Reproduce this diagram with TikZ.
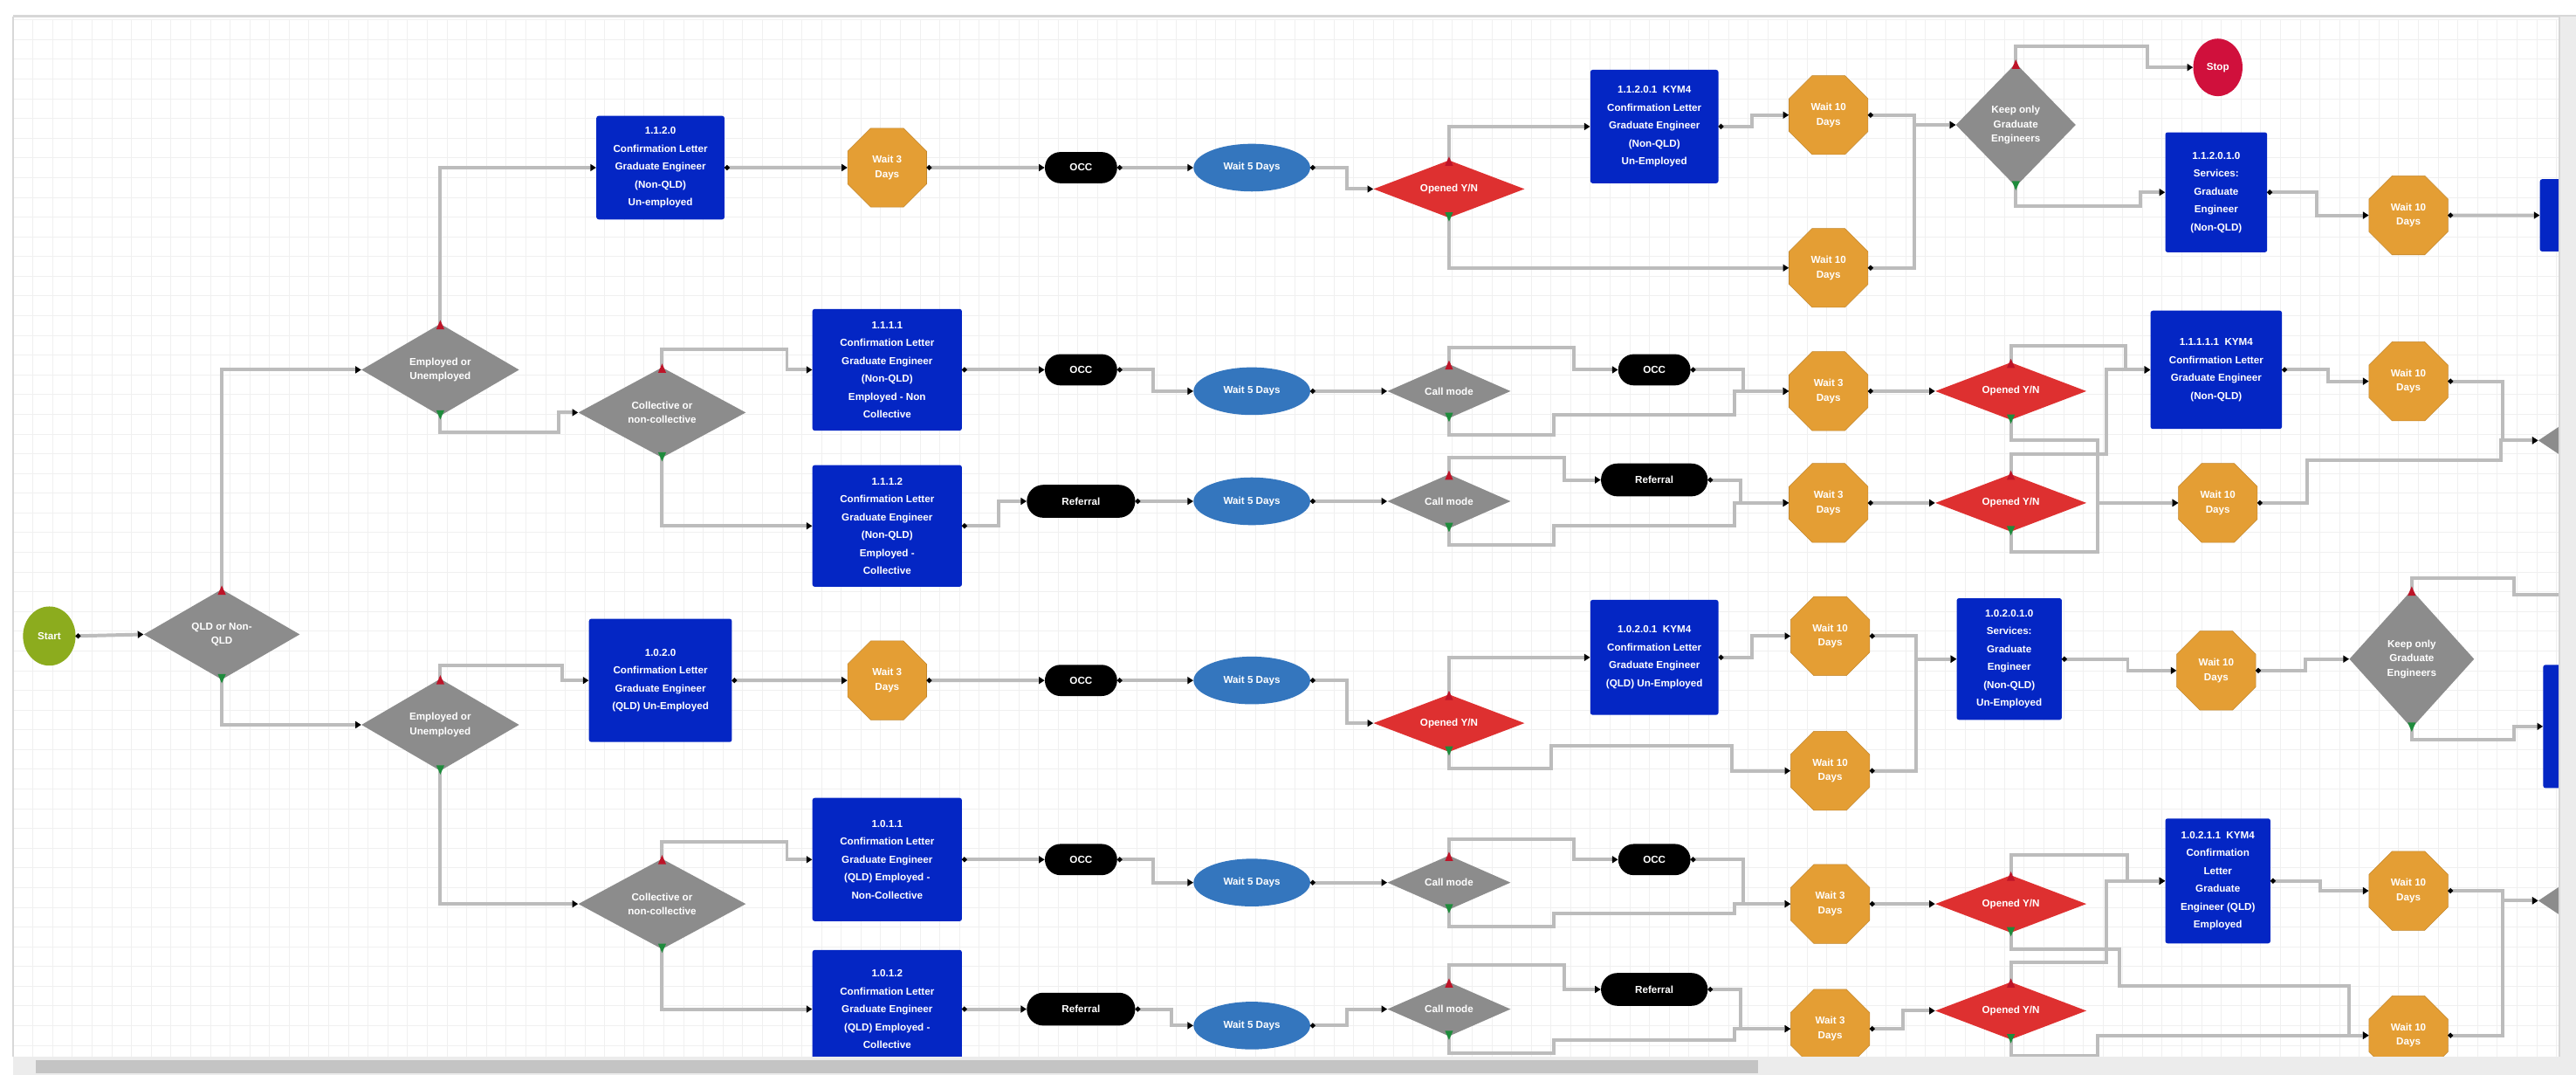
\documentclass[tikz,border=0pt]{standalone}
\usepackage{fontspec}
\setmainfont{Liberation Sans}
\usetikzlibrary{arrows.meta, shapes.geometric, shapes.misc}

\definecolor{letterblue}{RGB}{4,38,196}
\definecolor{waitorange}{RGB}{228,158,52}
\definecolor{waitblue}{RGB}{52,118,190}
\definecolor{openred}{RGB}{222,48,48}
\definecolor{decgray}{RGB}{140,140,140}
\definecolor{startgreen}{RGB}{140,172,30}
\definecolor{stopred}{RGB}{208,16,60}
\definecolor{linkgray}{RGB}{188,188,188}
\definecolor{gridgray}{RGB}{240,240,240}
\definecolor{framegray}{RGB}{215,215,215}
\definecolor{scrolltrack}{RGB}{236,236,236}
\definecolor{scrollthumb}{RGB}{196,196,196}
\definecolor{portred}{RGB}{190,20,40}
\definecolor{portgreen}{RGB}{30,140,60}

\begin{document}
\begin{tikzpicture}[x=0.05cm, y=-0.05cm,
  letter/.style={rectangle, rounded corners=2pt, fill=letterblue, text=white, align=center, inner sep=1pt, font=\bfseries\fontsize{8.8}{15.5}\selectfont},
  wait/.style={regular polygon, regular polygon sides=8, minimum size=2.6cm, inner sep=0pt, fill=waitorange, draw=waitorange!85!black, text=white, align=center, font=\bfseries\fontsize{8.8}{12.5}\selectfont},
  waitfive/.style={ellipse, minimum width=3.55cm, minimum height=1.45cm, inner sep=0pt, fill=waitblue, text=white, font=\bfseries\fontsize{8.8}{12}\selectfont},
  pill/.style={rounded rectangle, fill=black, text=white, minimum width=2.2cm, minimum height=0.95cm, inner sep=0pt, font=\bfseries\fontsize{8.8}{12}\selectfont},
  decision/.style={diamond, fill=decgray, text=white, align=center, inner sep=0pt, aspect=1.8, font=\bfseries\fontsize{8.8}{12.5}\selectfont},
  callmode/.style={decision, minimum width=3.75cm, minimum height=1.65cm, aspect=2.3},
  opened/.style={diamond, fill=openred, text=white, inner sep=0pt, aspect=2.6, minimum width=4.6cm, minimum height=1.75cm, font=\bfseries\fontsize{8.8}{12}\selectfont},
  terminal/.style={ellipse, text=white, inner sep=0pt, font=\bfseries\fontsize{8.8}{12}\selectfont},
  arrow/.style={draw=linkgray, line width=3pt, -{Triangle[color=black,length=5pt,width=6pt]}},
  flow/.style={arrow, arrows={Circle[color=black,length=4pt]-Triangle[color=black,length=5pt,width=6pt]}}
]
\useasboundingbox (0,0) rectangle (1568,654);
\fill[white] (0,0) rectangle (1568,654);
\foreach \gx in {8,20,...,1556} \draw[gridgray, line width=0.5pt] (\gx,12) -- (\gx,643);
\foreach \gy in {12,24,...,642} \draw[gridgray, line width=0.5pt] (8,\gy) -- (1558,\gy);

\begin{scope}
\clip (8,12) rectangle (1558,643);

\node[terminal, fill=startgreen, minimum width=1.6cm, minimum height=1.8cm] (start) at (30,387) {Start};
\node[decision, minimum width=4.75cm, minimum height=2.75cm, aspect=1.7] (dqld) at (135,386) {QLD or Non-\\QLD};
\node[decision, minimum width=4.8cm, minimum height=2.8cm, aspect=1.7] (dempA) at (268,225) {Employed or\\Unemployed};
\node[decision, minimum width=4.8cm, minimum height=2.8cm, aspect=1.7] (dempB) at (268,441) {Employed or\\Unemployed};
\node[decision, minimum width=5.1cm, minimum height=2.75cm] (collA) at (403,251) {Collective or\\non-collective};
\node[decision, minimum width=5.1cm, minimum height=2.75cm] (collB) at (403,550) {Collective or\\non-collective};

\node[letter, minimum width=3.9cm, minimum height=3.15cm] (b1120) at (402,102) {1.1.2.0\\Confirmation Letter\\Graduate Engineer\\(Non-QLD)\\Un-employed};
\node[wait] (wA1) at (540,102) {Wait 3\\Days};
\node[pill] (occA1) at (658,102) {OCC};
\node[waitfive] (w5A) at (762,102) {Wait 5 Days};
\node[opened] (opA) at (882,115) {Opened Y/N};
\node[letter, minimum width=3.9cm, minimum height=3.45cm] (b11201) at (1007,77) {1.1.2.0.1\ \ KYM4\\Confirmation Letter\\Graduate Engineer\\(Non-QLD)\\Un-Employed};
\node[wait] (w10A1) at (1113,70) {Wait 10\\Days};
\node[wait] (w10A2) at (1113,163) {Wait 10\\Days};
\node[decision, minimum width=3.65cm, minimum height=3.75cm, aspect=1] (keepA) at (1227,76) {Keep only\\Graduate\\Engineers};
\node[terminal, fill=stopred, minimum width=1.5cm, minimum height=1.75cm] (stop) at (1350,41) {Stop};
\node[letter, minimum width=3.1cm, minimum height=3.65cm] (b112010) at (1349,117) {1.1.2.0.1.0\\Services:\\Graduate\\Engineer\\(Non-QLD)};
\node[wait] (wA3) at (1466,131) {Wait 10\\Days};
\node[letter, minimum width=2.4cm, minimum height=2.2cm] (pbA) at (1570,131) {};

\node[letter, minimum width=4.55cm, minimum height=3.7cm] (b1111) at (540,225) {1.1.1.1\\Confirmation Letter\\Graduate Engineer\\(Non-QLD)\\Employed - Non\\Collective};
\node[letter, minimum width=4.55cm, minimum height=3.7cm] (b1112) at (540,320) {1.1.1.2\\Confirmation Letter\\Graduate Engineer\\(Non-QLD)\\Employed -\\Collective};
\node[pill] (occB1) at (658,225) {OCC};
\node[waitfive] (w5B) at (762,238) {Wait 5 Days};
\node[callmode] (callB) at (882,238) {Call mode};
\node[pill] (occB2) at (1007,225) {OCC};
\node[wait] (w3B) at (1113,238) {Wait 3\\Days};
\node[opened] (opB) at (1224,238) {Opened Y/N};
\node[letter, minimum width=4cm, minimum height=3.6cm] (b11111) at (1349,225) {1.1.1.1.1\ \ KYM4\\Confirmation Letter\\Graduate Engineer\\(Non-QLD)};
\node[wait] (w10B) at (1466,232) {Wait 10\\Days};
\node[decision, minimum width=3cm, minimum height=2cm, aspect=1.5] (gateB) at (1575,268) {};

\node[pill, minimum width=3.3cm, minimum height=1cm] (refC1) at (658,305) {Referral};
\node[waitfive] (w5C) at (762,305) {Wait 5 Days};
\node[callmode] (callC) at (882,305) {Call mode};
\node[pill, minimum width=3.25cm, minimum height=1cm] (refC2) at (1007,292) {Referral};
\node[wait] (w3C) at (1113,306) {Wait 3\\Days};
\node[opened] (opC) at (1224,306) {Opened Y/N};
\node[wait] (w10C) at (1350,306) {Wait 10\\Days};

\node[letter, minimum width=4.35cm, minimum height=3.75cm] (b1020) at (402,414) {1.0.2.0\\Confirmation Letter\\Graduate Engineer\\(QLD) Un-Employed};
\node[wait] (wD1) at (540,414) {Wait 3\\Days};
\node[pill] (occD1) at (658,414) {OCC};
\node[waitfive] (w5D) at (762,414) {Wait 5 Days};
\node[opened] (opD) at (882,440) {Opened Y/N};
\node[letter, minimum width=3.9cm, minimum height=3.5cm] (b10201) at (1007,400) {1.0.2.0.1\ \ KYM4\\Confirmation Letter\\Graduate Engineer\\(QLD) Un-Employed};
\node[wait] (w10D1) at (1114,387) {Wait 10\\Days};
\node[wait] (w10D2) at (1114,469) {Wait 10\\Days};
\node[letter, minimum width=3.2cm, minimum height=3.7cm] (b102010) at (1223,401) {1.0.2.0.1.0\\Services:\\Graduate\\Engineer\\(Non-QLD)\\Un-Employed};
\node[wait] (w10D3) at (1349,408) {Wait 10\\Days};
\node[decision, minimum width=3.8cm, minimum height=4.2cm, aspect=1] (keepD) at (1468,401) {Keep only\\Graduate\\Engineers};
\node[letter, minimum width=2.2cm, minimum height=3.75cm] (pbD) at (1570,442) {};
\coordinate (outD) at (1575,362);

\node[letter, minimum width=4.55cm, minimum height=3.75cm] (b1011) at (540,523) {1.0.1.1\\Confirmation Letter\\Graduate Engineer\\(QLD) Employed -\\Non-Collective};
\node[letter, minimum width=4.55cm, minimum height=3.6cm] (b1012) at (540,614) {1.0.1.2\\Confirmation Letter\\Graduate Engineer\\(QLD) Employed -\\Collective};
\node[pill] (occE1) at (658,523) {OCC};
\node[waitfive] (w5E) at (762,537) {Wait 5 Days};
\node[callmode] (callE) at (882,537) {Call mode};
\node[pill] (occE2) at (1007,523) {OCC};
\node[wait] (w3E) at (1114,550) {Wait 3\\Days};
\node[opened] (opE) at (1224,550) {Opened Y/N};
\node[letter, minimum width=3.2cm, minimum height=3.8cm] (b10211) at (1350,536) {1.0.2.1.1\ \ KYM4\\Confirmation\\Letter\\Graduate\\Engineer (QLD)\\Employed};
\node[wait] (w10E) at (1466,542) {Wait 10\\Days};
\node[decision, minimum width=3cm, minimum height=2cm, aspect=1.5] (gateE) at (1575,548) {};

\node[pill, minimum width=3.3cm, minimum height=1cm] (refF1) at (658,614) {Referral};
\node[waitfive] (w5F) at (762,624) {Wait 5 Days};
\node[callmode] (callF) at (882,614) {Call mode};
\node[pill, minimum width=3.25cm, minimum height=1cm] (refF2) at (1007,602) {Referral};
\node[wait] (w3F) at (1114,626) {Wait 3\\Days};
\node[opened] (opF) at (1224,615) {Opened Y/N};
\node[wait] (w10F) at (1466,630) {Wait 10\\Days};

\draw[flow] (start.east) -- (dqld.west);
\draw[arrow] (dqld.north) |- (dempA.west);
\draw[arrow] (dqld.south) |- (dempB.west);
\draw[arrow] (dempA.north) |- (b1120.west);
\draw[flow] (b1120.east) -- (wA1.west);
\draw[flow] (wA1.east) -- (occA1.west);
\draw[flow] (occA1.east) -- (w5A.west);
\draw[flow] (w5A.east) -- ++(22,0) |- (opA.west);
\draw[arrow] (opA.north) |- (b11201.west);
\draw[arrow] (opA.south) |- (w10A2.west);
\draw[flow] (b11201.east) -- ++(20,0) |- (w10A1.west);
\draw[flow] (w10A1.east) -- ++(28,0) |- (keepA.west);
\draw[flow] (w10A2.east) -- ++(28,0) |- (keepA.west);
\draw[arrow] (keepA.north) -- ++(0,-10) -- ++(80,0) |- (stop.west);
\draw[arrow] (keepA.south) -- ++(0,12) -- ++(76,0) |- (b112010.west);
\draw[flow] (b112010.east) -- ++(30,0) |- (wA3.west);
\draw[flow] (wA3.east) -- (pbA.west);

\draw[arrow] (dempA.south) -- ++(0,10) -- ++(72,0) |- (collA.west);
\draw[arrow] (collA.north) -- ++(0,-11) -- ++(76,0) |- (b1111.west);
\draw[arrow] (collA.south) |- (b1112.west);
\draw[flow] (b1111.east) -- (occB1.west);
\draw[flow] (occB1.east) -- ++(22,0) |- (w5B.west);
\draw[flow] (w5B.east) -- (callB.west);
\draw[arrow] (callB.north) -- ++(0,-10) -- ++(76,0) |- (occB2.west);
\draw[flow] (occB2.east) -- ++(32,0) |- (w3B.west);
\draw[arrow] (callB.south) -- ++(0,10) -- ++(64,0) |- ++(110,-12) |- (w3B.west);
\draw[flow] (w3B.east) -- (opB.west);
\draw[arrow] (opB.north) -- ++(0,-10) -- ++(70,0) |- (b11111.west);
\draw[arrow] (opB.south) -- ++(0,12) -- ++(53,0) |- (w10C.west);
\draw[flow] (b11111.east) -- ++(28,0) |- (w10B.west);
\draw[flow] (w10B.east) -- ++(33,0) |- (gateB.west);

\draw[flow] (b1112.east) -- ++(22,0) |- (refC1.west);
\draw[flow] (refC1.east) -- (w5C.west);
\draw[flow] (w5C.east) -- (callC.west);
\draw[arrow] (callC.north) -- ++(0,-10) -- ++(70,0) |- (refC2.west);
\draw[flow] (refC2.east) -- ++(20,0) |- (w3C.west);
\draw[arrow] (callC.south) -- ++(0,10) -- ++(64,0) |- ++(110,-12) |- (w3C.west);
\draw[flow] (w3C.east) -- (opC.west);
\draw[arrow] (opC.north) -- ++(0,-12) -- ++(58,0) |- (b11111.west);
\draw[arrow] (opC.south) -- ++(0,12) -- ++(53,0) |- (w10C.west);
\draw[flow] (w10C.east) -- ++(30,0) |- ++(118,-26) |- (gateB.west);

\draw[arrow] (dempB.north) -- ++(0,-8) -- ++(74,0) |- (b1020.west);
\draw[flow] (b1020.east) -- (wD1.west);
\draw[flow] (wD1.east) -- (occD1.west);
\draw[flow] (occD1.east) -- (w5D.west);
\draw[flow] (w5D.east) -- ++(22,0) |- (opD.west);
\draw[arrow] (opD.north) |- (b10201.west);
\draw[arrow] (opD.south) -- ++(0,10) -- ++(62,0) |- ++(110,-14) |- (w10D2.west);
\draw[flow] (b10201.east) -- ++(20,0) |- (w10D1.west);
\draw[flow] (w10D1.east) -- ++(28,0) |- (b102010.west);
\draw[flow] (w10D2.east) -- ++(28,0) |- (b102010.west);
\draw[flow] (b102010.east) -- ++(40,0) |- (w10D3.west);
\draw[flow] (w10D3.east) -- ++(30,0) |- (keepD.west);
\draw[arrow] (keepD.north) -- ++(0,-7) -- ++(62,0) |- (outD);
\draw[arrow] (keepD.south) -- ++(0,7) -- ++(62,0) |- (pbD.west);

\draw[arrow] (dempB.south) |- (collB.west);
\draw[arrow] (collB.north) -- ++(0,-10) -- ++(76,0) |- (b1011.west);
\draw[arrow] (collB.south) |- (b1012.west);
\draw[flow] (b1011.east) -- (occE1.west);
\draw[flow] (occE1.east) -- ++(22,0) |- (w5E.west);
\draw[flow] (w5E.east) -- (callE.west);
\draw[arrow] (callE.north) -- ++(0,-10) -- ++(76,0) |- (occE2.west);
\draw[flow] (occE2.east) -- ++(32,0) |- (w3E.west);
\draw[arrow] (callE.south) -- ++(0,10) -- ++(64,0) |- ++(110,-8) |- (w3E.west);
\draw[flow] (w3E.east) -- (opE.west);
\draw[arrow] (opE.north) -- ++(0,-12) -- ++(71,0) |- (b10211.west);
\draw[arrow] (opE.south) -- ++(0,10) -- ++(66,0) |- ++(140,22) |- (w10F.west);
\draw[flow] (b10211.east) -- ++(30,0) |- (w10E.west);
\draw[flow] (w10E.east) -- ++(33,0) |- (gateE.west);

\draw[flow] (b1012.east) -- (refF1.west);
\draw[flow] (refF1.east) -- ++(22,0) |- (w5F.west);
\draw[flow] (w5F.east) -- ++(22,0) |- (callF.west);
\draw[arrow] (callF.north) -- ++(0,-10) -- ++(70,0) |- (refF2.west);
\draw[flow] (refF2.east) -- ++(20,0) |- (w3F.west);
\draw[arrow] (callF.south) -- ++(0,10) -- ++(64,0) |- ++(110,-8) |- (w3F.west);
\draw[flow] (w3F.east) -- ++(20,0) |- (opF.west);
\draw[arrow] (opF.north) -- ++(0,-12) -- ++(58,0) |- (b10211.west);
\draw[arrow] (opF.south) -- ++(0,10) -- ++(53,0) |- (w10F.west);
\draw[flow] (w10F.east) -- ++(33,0) |- (gateE.west);

\foreach \dn in {dqld,dempA,dempB,collA,collB,opA,opB,opC,opD,opE,opF,callB,callC,callE,callF,keepA,keepD}{
  \fill[portred] ([xshift=-3.5pt,yshift=-5pt]\dn.north) -- ([yshift=3pt]\dn.north) -- ([xshift=3.5pt,yshift=-5pt]\dn.north) -- cycle;
  \fill[portgreen] ([xshift=-3.5pt,yshift=5pt]\dn.south) -- ([yshift=-3pt]\dn.south) -- ([xshift=3.5pt,yshift=5pt]\dn.south) -- cycle;
}
\end{scope}

\draw[framegray, line width=2pt] (8,10) -- (1568,10);
\draw[framegray, line width=1pt] (8,10) -- (8,643);
\fill[scrolltrack] (1558,10) rectangle (1568,643);
\draw[framegray, line width=1.2pt] (1558,10) -- (1558,643);
\fill[scrolltrack] (8,643) rectangle (1568,654);
\fill[scrollthumb] (22,645) rectangle (1070,653);
\end{tikzpicture}
\end{document}
